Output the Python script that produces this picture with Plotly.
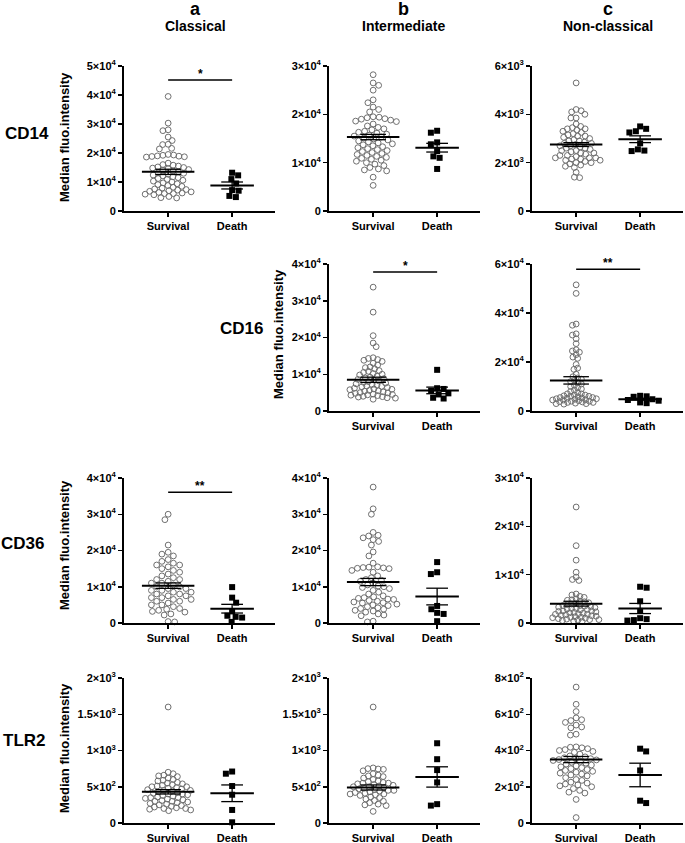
import numpy as np
import plotly.graph_objects as go

# ---------------- data ----------------
rows = ["CD14", "CD16", "CD36", "TLR2"]
cols = ["a", "b", "c"]
col_titles = ["Classical", "Intermediate", "Non-classical"]
groups = ["Survival", "Death"]

cd14_a_survival = [39500, 30300, 28000, 27700, 25500, 24300, 23000, 22900, 21600, 21400,
                   19500, 19300, 19200, 19000, 18900, 18800, 18700, 18600,
                   16500, 16000, 15800, 15500, 15200, 15000, 14800, 14600, 14300, 14100,
                   13800, 13500, 13200, 13000, 12700, 12400, 12100, 11800, 11500, 11200,
                   10900, 10600, 10300, 10000, 9700, 9400, 9100, 8800, 8500, 8200,
                   7900, 7600, 7400, 7200, 7000, 6800, 6600, 6400, 6200, 6000, 6000,
                   5800, 5600, 5000, 4600, 4500]
cd14_a_death = [13200, 12300, 11000, 9500, 7200, 7000, 5200, 4800]

cd14_b_survival = [28200, 26500, 26000, 25000, 23000, 22400, 21500, 21000, 20500,
                   19500, 19400, 19300, 19100, 19000, 18800, 18600, 18500,
                   18000, 17600, 17300, 17000, 16800, 16500, 16300, 16100, 15900, 15700,
                   15500, 15300, 15100, 14900, 14700, 14500, 14300, 14100, 13900, 13700,
                   13500, 13300, 13100, 12900, 12700, 12500, 12300, 12100, 11900, 11700,
                   11500, 11300, 11100, 10900, 10700, 10500, 10300, 10000, 9700, 9400,
                   9000, 8700, 8500, 8300, 7000, 5300]
cd14_b_death = [16600, 16200, 14200, 13800, 12400, 11300, 11000, 8700]

cd14_c_survival = [5300, 4200, 4150, 4100, 4000, 3850, 3850, 3600, 3500, 3450, 3400, 3400,
                   3350, 3300, 3250, 3200, 3150, 3100, 3100, 3050, 3000, 2950, 2900, 2900,
                   2850, 2800, 2800, 2750, 2700, 2700, 2650, 2600, 2600, 2550, 2500, 2500,
                   2450, 2400, 2400, 2350, 2300, 2300, 2250, 2200, 2200, 2200, 2150, 2150,
                   2100, 2100, 2050, 2000, 2000, 1950, 1900, 1850, 1800, 1600, 1400, 1380]
cd14_c_death = [3500, 3400, 3300, 3250, 2800, 2550, 2500, 2480]

cd16_b_survival = [33700, 26900, 20500, 18500, 17500, 14500, 14300, 14000, 13800, 13500,
                   13000, 12500, 12000, 11800, 11500, 11000, 10800, 10500, 10200, 10000,
                   9800, 9500, 9200, 9000, 8800, 8600, 8400, 8200, 8000, 7800, 7600, 7400,
                   7200, 7000, 6800, 6700, 6600, 6400, 6200, 6000, 5900, 5800, 5600, 5500,
                   5400, 5200, 5000, 4900, 4800, 4600, 4500, 4400, 4300, 4200, 4000, 3900,
                   3800, 3600, 3500, 3200]
cd16_b_death = [11200, 6200, 6000, 5500, 4800, 4500, 3600, 3400]

cd16_c_survival = [51500, 48000, 35500, 35000, 31500, 31000, 29500, 27500, 25000, 24500,
                   24000, 23000, 22000, 21500, 19000, 17500, 17000, 15000, 14000, 13500,
                   13000, 12500, 12000, 11500, 11000, 10500, 10000, 9500, 9000, 8500, 8000,
                   7500, 7000, 7000, 6500, 6500, 6200, 6000, 6000, 5800, 5500, 5500, 5300,
                   5200, 5000, 5000, 4800, 4600, 4500, 4500, 4200, 4000, 4000, 3800, 3700,
                   3500, 3500, 3200, 3000, 3000, 2800]
cd16_c_death = [6200, 6000, 5800, 4800, 4500, 4200, 3500, 3200]

cd36_a_survival = [30000, 28500, 21500, 19500, 19000, 18500, 17500, 17000, 16500, 16000,
                   16000, 15500, 15000, 14500, 14000, 13500, 13000, 12500, 12000, 12000,
                   11500, 11000, 11000, 10500, 10000, 10000, 9500, 9500, 9000, 9000, 8500,
                   8500, 8000, 8000, 7500, 7500, 7000, 7000, 6500, 6500, 6000, 6000, 5500,
                   5000, 5000, 4500, 4000, 3800, 3500, 3200, 3000, 2500, 2200, 400, 300]
cd36_a_death = [9900, 7000, 5600, 3200, 2000, 1700, 1500, 300]

cd36_b_survival = [37500, 31500, 30000, 25000, 24200, 24000, 23500, 23000, 22500, 21500,
                   19600, 18500, 16500, 15500, 15400, 15300, 15200, 15100, 15000, 14500,
                   14000, 13000, 12500, 12000, 11800, 11500, 11000, 10500, 10200, 10000,
                   9800, 9500, 9000, 8500, 8000, 7500, 7200, 7000, 6800, 6600, 6500, 6200,
                   6000, 5800, 5600, 5500, 5200, 5000, 4800, 4500, 4200, 4000, 3800, 3500,
                   3300, 3000, 2500, 2200, 2000, 500, 300]
cd36_b_death = [16800, 14000, 13500, 4700, 3800, 2800, 2500, 500]

cd36_c_survival = [24000, 16000, 13000, 10500, 9500, 9000, 8800, 6000, 5800, 5500, 5300,
                   5000, 4800, 4700, 4500, 4400, 4200, 4000, 3900, 3800, 3600, 3600, 3500,
                   3400, 3300, 3200, 3000, 3000, 2900, 2800, 2700, 2500, 2500, 2400, 2300,
                   2200, 2100, 2000, 1900, 1800, 1800, 1700, 1600, 1500, 1400, 1300, 1200,
                   1200, 1100, 1000, 900, 800, 700, 700, 600, 500, 400, 300]
cd36_c_death = [7500, 7300, 4500, 2500, 1000, 800, 600, 500]

tlr2_a_survival = [1600, 700, 680, 660, 650, 640, 620, 600, 590, 580, 560, 550, 540, 530,
                   520, 510, 500, 500, 490, 480, 470, 460, 450, 450, 440, 430, 420, 410,
                   400, 400, 390, 380, 370, 360, 350, 350, 340, 330, 320, 310, 300, 300,
                   290, 280, 270, 260, 250, 240, 230, 220, 210, 200, 200, 190, 180, 170]
tlr2_a_death = [710, 680, 510, 390, 180, 10]

tlr2_b_survival = [1600, 760, 750, 745, 740, 720, 680, 660, 650, 640, 620, 600, 580, 570,
                   560, 550, 550, 540, 530, 520, 510, 500, 500, 490, 480, 470, 460, 450,
                   450, 440, 430, 420, 410, 400, 400, 390, 380, 360, 350, 330, 310, 300,
                   280, 260, 250, 240, 160]
tlr2_b_death = [1100, 880, 730, 560, 260, 240]

tlr2_c_survival = [750, 655, 615, 580, 570, 565, 555, 540, 530, 525, 490, 485, 420, 418,
                   415, 410, 405, 400, 395, 390, 380, 370, 365, 360, 358, 355, 350, 348,
                   345, 340, 335, 330, 325, 320, 315, 310, 305, 300, 295, 290, 285, 280,
                   275, 270, 265, 260, 250, 240, 235, 225, 220, 215, 210, 205, 200, 190,
                   180, 170, 165, 130, 30]
tlr2_c_death = [410, 395, 290, 123, 110]

# mean and SEM as drawn in the picture
survival_mean = [13500, 15300, 2750, 8500, 12500, 10300, 11300, 4000, 430, 490, 350]
survival_sem = [900, 550, 80, 700, 1500, 750, 1000, 500, 30, 35, 17]
death_mean = [8800, 13100, 2970, 5600, 4800, 3950, 7300, 3000, 410, 635, 265]
death_sem = [1200, 900, 140, 900, 400, 1200, 2300, 1050, 115, 140, 65]

# y-axis maxima and tick steps
y_max = [5e4, 3e4, 6e3, 4e4, 6e4, 4e4, 4e4, 3e4, 2e3, 2e3, 8e2]
y_step = [1e4, 1e4, 2e3, 1e4, 2e4, 1e4, 1e4, 1e4, 500, 500, 2e2]

# significance bars
sig_label = ["*", "", "", "*", "**", "**", "", "", "", "", ""]
sig_y = [45200, None, None, 37800, 57900, 36100, None, None, None, None, None]

panel_row = ["CD14", "CD14", "CD14", "CD16", "CD16", "CD36", "CD36", "CD36", "TLR2", "TLR2", "TLR2"]
panel_col = ["a", "b", "c", "b", "c", "a", "b", "c", "a", "b", "c"]
panel_survival = [cd14_a_survival, cd14_b_survival, cd14_c_survival, cd16_b_survival,
                  cd16_c_survival, cd36_a_survival, cd36_b_survival, cd36_c_survival,
                  tlr2_a_survival, tlr2_b_survival, tlr2_c_survival]
panel_death = [cd14_a_death, cd14_b_death, cd14_c_death, cd16_b_death, cd16_c_death,
               cd36_a_death, cd36_b_death, cd36_c_death, tlr2_a_death, tlr2_b_death,
               tlr2_c_death]

# ---------------- layout geometry ----------------
W, H = 685, 843
col_px = {"a": (124, 275), "b": (329, 480), "c": (532, 683)}
row_px = {"CD14": (66, 211), "CD16": (264, 411), "CD36": (478, 623), "TLR2": (678, 823)}
XR = (-0.69, 1.67)
FONT = "Liberation Sans, Arial, sans-serif"
HALF_W = 24.0   # max half width of a swarm, px


def px(x):
    return x / W


def py(y):
    return 1 - y / H


def sci(v):
    if v == 0:
        return "0"
    e = int(np.floor(np.log10(v) + 1e-9))
    m = v / 10 ** e
    return f"{m:g}×10<sup>{e}</sup>"


def swarm_px(vals, ypx, d, step=0.25):
    vals = np.asarray(vals, dtype=float)
    order = np.argsort(-vals, kind="stable")
    placed = []
    offs = np.zeros(len(vals))
    for i in order:
        y = vals[i] * ypx
        k = 0
        found = None
        while found is None:
            cands = [0.0] if k == 0 else [k * step, -k * step]
            if k % 2 == 1:
                cands = cands[::-1]
            for s in cands:
                if all((s - qx) ** 2 + (y - qy) ** 2 >= d * d for qx, qy in placed):
                    found = s
                    break
            k += 1
        placed.append((found, y))
        offs[i] = found
    return offs


def swarm(vals, ypx, xpx, d_max=6.3, d_min=3.6, half=HALF_W):
    d = d_max
    offs = swarm_px(vals, ypx, d)
    while np.abs(offs).max() > half and d > d_min:
        d -= 0.2
        offs = swarm_px(vals, ypx, d)
    return offs / xpx


fig = go.Figure()
layout = dict(width=W, height=H, margin=dict(l=0, r=0, t=0, b=0, autoexpand=False),
              paper_bgcolor="white", plot_bgcolor="white", showlegend=False,
              hovermode=False,
              font=dict(family=FONT, color="black"))
shapes, annotations = [], []

for i in range(len(panel_row)):
    n = i + 1
    xa, ya = ("x" if n == 1 else f"x{n}"), ("y" if n == 1 else f"y{n}")
    x0p, x1p = col_px[panel_col[i]]
    y0p, y1p = row_px[panel_row[i]]
    ypx = (y1p - y0p) / y_max[i]
    xpx = (x1p - x0p) / (XR[1] - XR[0])

    s_off = swarm(panel_survival[i], ypx, xpx)
    d_off = swarm(panel_death[i], ypx, xpx, d_max=6.4, half=20)
    fig.add_trace(go.Scatter(x=0 + s_off, y=panel_survival[i], mode="markers", xaxis=xa, yaxis=ya,
                             cliponaxis=False,
                             marker=dict(symbol="circle-open", size=5.8, color="#6f6f6f",
                                         line=dict(width=1, color="#6f6f6f"))))
    fig.add_trace(go.Scatter(x=1 + d_off, y=panel_death[i], mode="markers", xaxis=xa, yaxis=ya,
                             cliponaxis=False,
                             marker=dict(symbol="square", size=6, color="black")))
    # mean and SEM lines
    for g, m, se, w, ws in [(0, survival_mean[i], survival_sem[i], 0.41, 0.2),
                            (1, death_mean[i], death_sem[i], 0.34, 0.17)]:
        fig.add_trace(go.Scatter(x=[g - ws, g + ws, None, g, g, None, g - ws, g + ws],
                                 y=[m + se, m + se, None, m - se, m + se, None, m - se, m - se],
                                 mode="lines", xaxis=xa, yaxis=ya, cliponaxis=False,
                                 line=dict(color="black", width=1.3)))
        fig.add_trace(go.Scatter(x=[g - w, g + w], y=[m, m], mode="lines", xaxis=xa, yaxis=ya,
                                 cliponaxis=False, line=dict(color="black", width=2)))

    ticks = list(np.arange(0, y_max[i] + y_step[i] / 2, y_step[i]))
    key = "" if n == 1 else str(n)
    layout["xaxis" + key] = dict(domain=[px(x0p), px(x1p)], range=list(XR), anchor=ya,
                                 automargin=False,
                                 showgrid=False, zeroline=False, showline=True,
                                 linecolor="black", linewidth=2, ticks="outside",
                                 ticklen=4, tickwidth=1.5, tickcolor="black",
                                 tickvals=[0, 1], ticktext=groups,
                                 tickfont=dict(family=FONT, size=11, color="black", weight="bold"),
                                 fixedrange=True)
    layout["yaxis" + key] = dict(domain=[py(y1p), py(y0p)], range=[0, y_max[i]], anchor=xa,
                                 automargin=False,
                                 showgrid=False, zeroline=False, showline=True,
                                 linecolor="black", linewidth=2, ticks="outside",
                                 ticklen=4, tickwidth=1.5, tickcolor="black",
                                 tickvals=ticks, ticktext=[sci(t) for t in ticks],
                                 tickfont=dict(family=FONT, size=11, color="black", weight="bold"),
                                 fixedrange=True)
    if sig_label[i]:
        shapes.append(dict(type="line", xref=xa, yref=ya, x0=0, x1=1, y0=sig_y[i], y1=sig_y[i],
                           line=dict(color="black", width=1.5)))
        annotations.append(dict(xref=xa, yref=ya, x=0.5, y=sig_y[i], text=sig_label[i],
                                showarrow=False, yanchor="bottom", yshift=-3,
                                font=dict(family=FONT, size=12, color="black", weight="bold")))

# column headers
for c, t, xc in zip(cols, col_titles, [196, 403, 608]):
    annotations.append(dict(xref="paper", yref="paper", x=px(xc), y=py(9), text=f"<b>{c}</b>",
                            showarrow=False, xanchor="center", yanchor="middle",
                            font=dict(family=FONT, size=18, color="black")))
    annotations.append(dict(xref="paper", yref="paper", x=px(xc), y=py(26), text=f"<b>{t}</b>",
                            showarrow=False, xanchor="center", yanchor="middle",
                            font=dict(family=FONT, size=14, color="black")))

# row labels
for r, (xr, yr) in zip(rows, [(27, 133), (241, 328), (22, 543), (24, 740)]):
    annotations.append(dict(xref="paper", yref="paper", x=px(xr), y=py(yr), text=f"<b>{r}</b>",
                            showarrow=False, xanchor="center", yanchor="middle",
                            font=dict(family=FONT, size=17, color="black")))

# y-axis titles
for (xt, yt) in [(64, 137), (278, 334), (64, 545), (64, 748)]:
    annotations.append(dict(xref="paper", yref="paper", x=px(xt), y=py(yt),
                            text="<b>Median fluo.intensity</b>", textangle=-90,
                            showarrow=False, xanchor="center", yanchor="middle",
                            font=dict(family=FONT, size=13, color="black")))

layout["shapes"] = shapes
layout["annotations"] = annotations
fig.update_layout(**layout)
fig.write_html("out.html",
               config={"displayModeBar": False, "staticPlot": True},
               post_script="document.body.style.margin='0';document.body.style.padding='0';"
                           "document.documentElement.style.overflow='hidden';")
